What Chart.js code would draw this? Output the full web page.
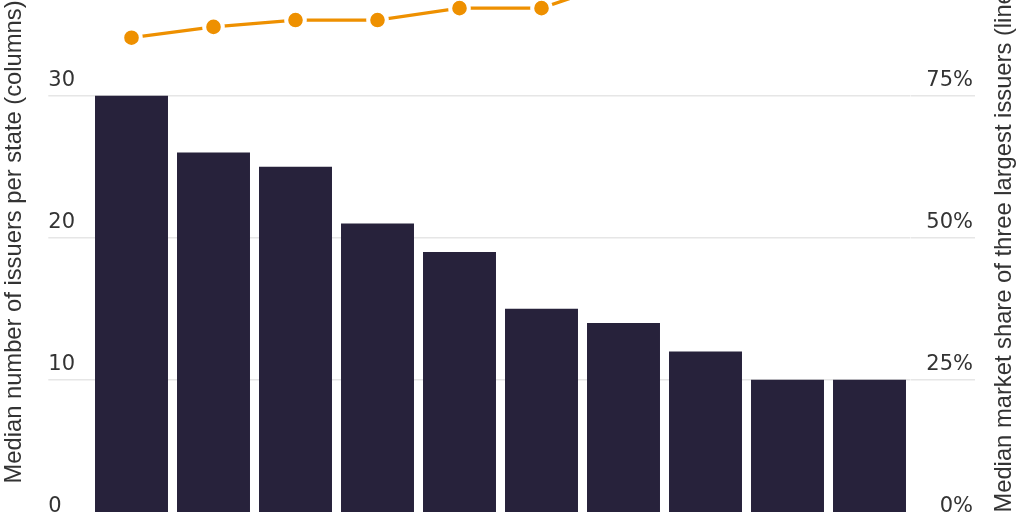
<!DOCTYPE html>
<html>
<head>
<meta charset="utf-8">
<title>Issuers per state and market share</title>
<script src="https://cdn.jsdelivr.net/npm/chart.js@4.4.1/dist/chart.umd.min.js"></script>
<style>
  html, body { margin: 0; padding: 0; background: #fff; width: 1024px; height: 512px; overflow: hidden; }
  /* the chart is taller than the window; the top and bottom run off the frame */
  #wrap { position: absolute; left: 0; top: -113px; width: 1024px; height: 710px; }
</style>
</head>
<body>
<div id="wrap"><canvas id="issuersChart"></canvas></div>
<script>
// x-axis labels are off the frame in the reference
const categories = ['Group 1', 'Group 2', 'Group 3', 'Group 4', 'Group 5',
                    'Group 6', 'Group 7', 'Group 8', 'Group 9', 'Group 10'];
const medianIssuers = [30, 26, 25, 21, 19, 15, 14, 12, 10, 10];
const topThreeShare = [85.2, 87.1, 88.3, 88.3, 90.4, 90.4, 95.3, 96.2, 97, 97.5];
const issuerTicks = [0, 10, 20, 30];
const shareTicks = [0, 25, 50, 75];

const leftTitle = 'Median number of issuers per state (columns)';
const rightTitle = 'Median market share of three largest issuers (lines)';

const BAR = '#27223b';
const ORANGE = '#ee9000';
const GRID = '#e6e6e6';
const TEXT = '#333333';
const titleFont = { family: '"Liberation Sans", Arial, sans-serif', size: 23.75, lineHeight: 1 };
const tickFont = { family: '"DejaVu Sans", sans-serif', size: 21 };

// right title reads bottom-to-top, so it is drawn here instead of by the axis
const rightTitlePlugin = {
    id: 'rightTitle',
    afterDraw(chart) {
        const { ctx, chartArea } = chart;
        ctx.save();
        ctx.translate(chart.width - 20, (chartArea.top + chartArea.bottom) / 2);
        ctx.rotate(-Math.PI / 2);
        ctx.font = `${titleFont.size}px ${titleFont.family}`;
        ctx.fillStyle = TEXT;
        ctx.textAlign = 'center';
        ctx.textBaseline = 'middle';
        ctx.fillText(rightTitle, 0, 0);
        ctx.restore();
    }
};

const ctx = document.getElementById('issuersChart').getContext('2d');

new Chart(ctx, {
    data: {
        labels: categories,
        datasets: [{
            type: 'line',
            data: topThreeShare,
            yAxisID: 'y1',
            order: 0,
            borderColor: ORANGE,
            borderWidth: 3.3,
            tension: 0,
            pointRadius: 9.3,
            pointHoverRadius: 9.3,
            pointBackgroundColor: ORANGE,
            pointBorderColor: '#ffffff',
            pointBorderWidth: 4
        }, {
            type: 'bar',
            data: medianIssuers,
            yAxisID: 'y',
            order: 1,
            backgroundColor: BAR,
            borderWidth: 0,
            categoryPercentage: 1,
            barPercentage: 0.89
        }]
    },
    options: {
        responsive: true,
        maintainAspectRatio: false,
        animation: false,
        layout: {
            // top/bottom room comes from the right axis label padding (~74px)
            padding: { left: 0, right: 0, top: 0, bottom: 0 }
        },
        plugins: {
            legend: { display: false },
            tooltip: { enabled: false }
        },
        scales: {
            x: {
                display: false,
                offset: true
            },
            y: {
                position: 'left',
                min: 0,
                max: 39.4,
                afterBuildTicks: (scale) => {
                    scale.ticks = issuerTicks.map(v => ({ value: v }));
                },
                afterFit: (scale) => { scale.width = 90.5; },
                border: { display: false },
                grid: {
                    color: GRID,
                    lineWidth: 1.5,
                    drawTicks: true,
                    tickLength: 42.2,
                    tickColor: GRID
                },
                ticks: {
                    mirror: true,
                    crossAlign: 'near',
                    padding: -42.2,
                    labelOffset: -15,
                    color: TEXT,
                    font: tickFont,
                    callback: (v) => String(v)
                },
                title: {
                    display: true,
                    text: leftTitle,
                    color: TEXT,
                    font: titleFont,
                    padding: { top: 2.65, bottom: 21.6 }
                }
            },
            y1: {
                position: 'right',
                min: 0,
                max: 98.5,
                afterBuildTicks: (scale) => {
                    scale.ticks = shareTicks.map(v => ({ value: v }));
                },
                afterFit: (scale) => { scale.width = 113.5; },
                border: { display: false },
                grid: {
                    drawOnChartArea: false,
                    drawTicks: true,
                    tickLength: 64.5,
                    color: GRID,
                    tickColor: GRID,
                    lineWidth: 1.5
                },
                ticks: {
                    mirror: true,
                    crossAlign: 'near',
                    padding: 62.5,
                    labelOffset: -15,
                    color: TEXT,
                    font: tickFont,
                    callback: (v) => v + '%'
                }
            }
        }
    },
    plugins: [rightTitlePlugin]
});
</script>
</body>
</html>
